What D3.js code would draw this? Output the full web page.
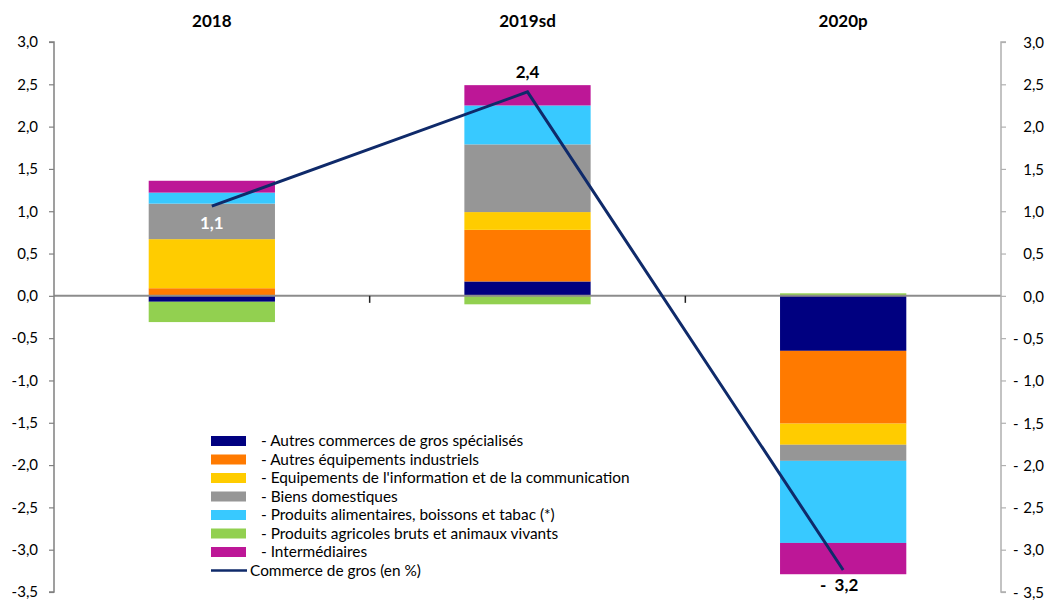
<!DOCTYPE html>
<html>
<head>
<meta charset="utf-8">
<script src="https://cdn.jsdelivr.net/npm/d3@7"></script>
<style>
  html, body { margin: 0; padding: 0; background: #ffffff; }
  svg { display: block; }
  text { font-family: Lato, "Open Sans", sans-serif; fill: #000; }
</style>
</head>
<body>
<svg id="chart" width="1058" height="601"></svg>
<script>
// Contributions à la croissance du commerce de gros (en points)
const years = ["2018", "2019sd", "2020p"];

const seriesNames = [
  "- Autres commerces de gros spécialisés",
  "- Autres équipements industriels",
  "- Equipements de l'information et de la communication",
  "- Biens domestiques",
  "- Produits alimentaires, boissons et tabac (*)",
  "- Produits agricoles bruts et animaux vivants",
  "- Intermédiaires"
];
const seriesColors = ["#000080", "#ff7a00", "#ffcc00", "#969696", "#38c9ff", "#92d050", "#bd1797"];

// one array per sector, in the order of the years
const autresSpecialises = [-0.07, 0.17, -0.65];
const autresEquipements = [0.09, 0.61, -0.86];
const equipInfoCom      = [0.58, 0.21, -0.25];
const biensDomestiques  = [0.42, 0.80, -0.19];
const produitsAlim      = [0.13, 0.46, -0.97];
const produitsAgricoles = [-0.24, -0.10, 0.03];
const intermediaires    = [0.14, 0.24, -0.37];

// total growth of wholesale trade (%)
const commerceGros = [1.06, 2.41, -3.24];

const yTicks = [3.0, 2.5, 2.0, 1.5, 1.0, 0.5, 0.0, -0.5, -1.0, -1.5, -2.0, -2.5, -3.0, -3.5];

const seriesValues = [autresSpecialises, autresEquipements, equipInfoCom, biensDomestiques,
                      produitsAlim, produitsAgricoles, intermediaires];

const rows = years.map((yr, i) => {
  const r = { year: yr };
  seriesNames.forEach((n, k) => { r[n] = seriesValues[k][i]; });
  return r;
});

const svg = d3.select("#chart");
const plotLeft = 54, plotRight = 1001, plotTop = 42, plotBottom = 592;

const x = d3.scaleBand().domain(years).range([plotLeft, plotRight]).paddingInner(0.6).paddingOuter(0.3);
const xCat = d3.scaleBand().domain(years).range([plotLeft, plotRight]);
const y = d3.scaleLinear().domain([-3.5, 3.0]).range([plotBottom, plotTop]);

const fmt = v => d3.format(".1f")(Math.abs(v)).replace(".", ",");

// stacked bars
const stack = d3.stack().keys(seriesNames).offset(d3.stackOffsetDiverging);
const stacked = stack(rows);

svg.append("g").selectAll("g").data(stacked).join("g")
  .attr("fill", (d, i) => seriesColors[i])
  .selectAll("rect").data(d => d).join("rect")
  .attr("x", d => x(d.data.year))
  .attr("width", x.bandwidth())
  .attr("y", d => y(Math.max(d[0], d[1])))
  .attr("height", d => Math.abs(y(d[0]) - y(d[1])));

// zero line
svg.append("line")
  .attr("x1", plotLeft).attr("x2", plotRight)
  .attr("y1", y(0)).attr("y2", y(0))
  .attr("stroke", "#8c8c8c").attr("stroke-width", 2);

// category separators on the zero line
svg.append("g").selectAll("line").data(years.slice(1)).join("line")
  .attr("x1", d => xCat(d)).attr("x2", d => xCat(d))
  .attr("y1", y(0)).attr("y2", y(0) + 7)
  .attr("stroke", "#222").attr("stroke-width", 1.5);

// left axis
const gl = svg.append("g").attr("transform", `translate(${plotLeft},0)`)
  .call(d3.axisLeft(y).tickValues(yTicks).tickSize(5).tickPadding(11)
    .tickFormat(v => (v < 0 ? "-" : "") + fmt(v)));
gl.select(".domain").attr("stroke", "#808080").attr("stroke-width", 1.5)
  .attr("d", `M-5,${plotTop}H0V${plotBottom}H-5`);
gl.selectAll(".tick line").attr("stroke", "#808080").attr("stroke-width", 1.2);
gl.selectAll(".tick text").attr("font-size", 15).attr("fill", "#000")
  .style("font-family", "Lato, sans-serif");

// right axis
const gr = svg.append("g").attr("transform", `translate(${plotRight},0)`)
  .call(d3.axisRight(y).tickValues(yTicks).tickSize(5).tickPadding(0)
    .tickFormat(v => ""));
gr.select(".domain").attr("stroke", "#b0b0b0").attr("stroke-width", 1.5)
  .attr("d", `M5,${plotTop}H0V${plotBottom}H5`);
gr.selectAll(".tick line").attr("stroke", "#b0b0b0").attr("stroke-width", 1.2);
gr.selectAll(".tick").each(function(v) {
  const t = d3.select(this);
  t.append("text").attr("x", 43).attr("dy", "0.35em").attr("text-anchor", "end")
    .attr("font-size", 15).attr("fill", "#000").text(fmt(v));
  if (v < 0) {
    t.append("text").attr("x", 12).attr("dy", "0.35em")
      .attr("font-size", 15).attr("fill", "#000").text("-");
  }
});

// year titles
svg.append("g").selectAll("text").data(years).join("text")
  .attr("x", d => x(d) + x.bandwidth() / 2)
  .attr("y", 21).attr("dy", "0.35em")
  .attr("text-anchor", "middle")
  .attr("font-weight", "bold").attr("font-size", 17)
  .text(d => d);

// total growth line
const cx = d => x(d) + x.bandwidth() / 2;
const pts = years.map((yr, i) => [cx(yr), y(commerceGros[i])]);
svg.append("path")
  .attr("d", d3.line()(pts))
  .attr("fill", "none").attr("stroke", "#0f2a6a").attr("stroke-width", 3);

// value labels for the line
const labelOffset = [17, -20, 15];
const labelColor = ["#ffffff", "#000000", "#000000"];
svg.append("g").selectAll("text").data(commerceGros).join("text")
  .attr("x", (d, i) => pts[i][0] - (d < 0 ? 4 : 0))
  .attr("y", (d, i) => pts[i][1] + labelOffset[i])
  .attr("dy", "0.35em")
  .attr("text-anchor", "middle")
  .attr("font-weight", "bold").attr("font-size", 17)
  .style("fill", (d, i) => labelColor[i])
  .attr("xml:space", "preserve")
  .text(d => (d < 0 ? "-  " : "") + fmt(d));

// legend
const lg = svg.append("g");
const legX = 211, legY = 441, legStep = 18.5, legFont = 15.4;
seriesNames.forEach((n, i) => {
  lg.append("rect")
    .attr("x", legX).attr("y", legY + i * legStep - 5)
    .attr("width", 35).attr("height", 10)
    .attr("fill", seriesColors[i]);
  lg.append("text")
    .attr("x", legX + 50).attr("y", legY + i * legStep)
    .attr("dy", "0.35em").attr("font-size", legFont)
    .text(n);
});
const ly = legY + seriesNames.length * legStep;
lg.append("line")
  .attr("x1", legX).attr("x2", legX + 36)
  .attr("y1", ly).attr("y2", ly)
  .attr("stroke", "#0f2a6a").attr("stroke-width", 2.5);
lg.append("text")
  .attr("x", legX + 39).attr("y", ly)
  .attr("dy", "0.35em").attr("font-size", legFont)
  .text("Commerce de gros (en %)");
</script>
</body>
</html>
